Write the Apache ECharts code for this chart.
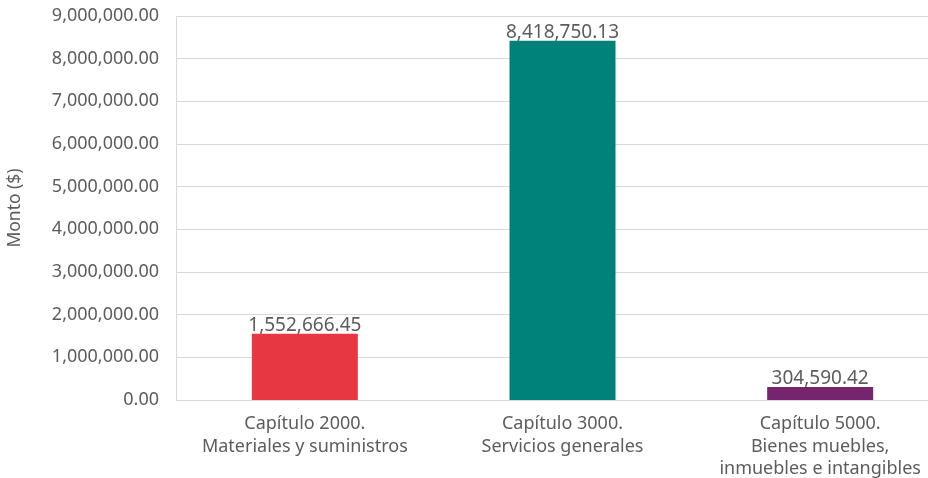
<!DOCTYPE html>
<html>
<head>
<meta charset="utf-8">
<script src="https://cdn.jsdelivr.net/npm/echarts@6/dist/echarts.min.js"></script>
<style>
  html, body { margin: 0; padding: 0; background: #ffffff; }
  #chart { width: 928px; height: 478px; }
</style>
</head>
<body>
<div id="chart"></div>
<script>
// Presupuesto ejercido por capítulo de gasto
const categories = [
  'Capítulo 2000.\nMateriales y suministros',
  'Capítulo 3000.\nServicios generales',
  'Capítulo 5000.\nBienes muebles,\ninmuebles e intangibles'
];
const montos = [1552666.45, 8418750.13, 304590.42];
const barColors = ['#e63743', '#00817a', '#77246f'];
const yTicks = { min: 0, max: 9000000, interval: 1000000 };
const yName = 'Monto ($)';

const fmt = v => v.toLocaleString('en-US', { minimumFractionDigits: 2, maximumFractionDigits: 2 });
const FONT = '"Noto Sans", sans-serif';
const TEXT = '#5c5c5c';

const chart = echarts.init(document.getElementById('chart'), null, { renderer: 'canvas' });
chart.setOption({
  animation: false,
  backgroundColor: '#ffffff',
  grid: {
    left: 176, top: 16, width: 773, height: 384,
    containLabel: false, outerBoundsMode: 'none'
  },
  xAxis: {
    type: 'category',
    data: categories,
    axisLine: { show: true, lineStyle: { color: '#d9d9d9', width: 1 } },
    axisTick: { show: false },
    axisLabel: {
      color: TEXT, fontFamily: FONT, fontSize: 18, lineHeight: 22.5,
      margin: 13, interval: 0
    },
    splitLine: { show: false }
  },
  yAxis: {
    type: 'value',
    min: yTicks.min, max: yTicks.max, interval: yTicks.interval,
    name: yName,
    nameLocation: 'middle',
    nameRotate: 90,
    nameGap: 152,
    nameTextStyle: { color: TEXT, fontFamily: FONT, fontSize: 17.5 },
    axisLine: { show: true, lineStyle: { color: '#d9d9d9', width: 1 } },
    axisTick: { show: false },
    axisLabel: {
      color: TEXT, fontFamily: FONT, fontSize: 18, margin: 17,
      formatter: v => fmt(v)
    },
    splitLine: { show: true, lineStyle: { color: '#d9d9d9', width: 1 } }
  },
  series: [{
    type: 'bar',
    barWidth: 106,
    data: montos.map((v, i) => ({ value: v, itemStyle: { color: barColors[i] } })),
    label: {
      show: true, position: 'top', distance: -1,
      color: TEXT, fontFamily: FONT, fontSize: 19,
      formatter: p => fmt(p.value)
    }
  }]
});
</script>
</body>
</html>
